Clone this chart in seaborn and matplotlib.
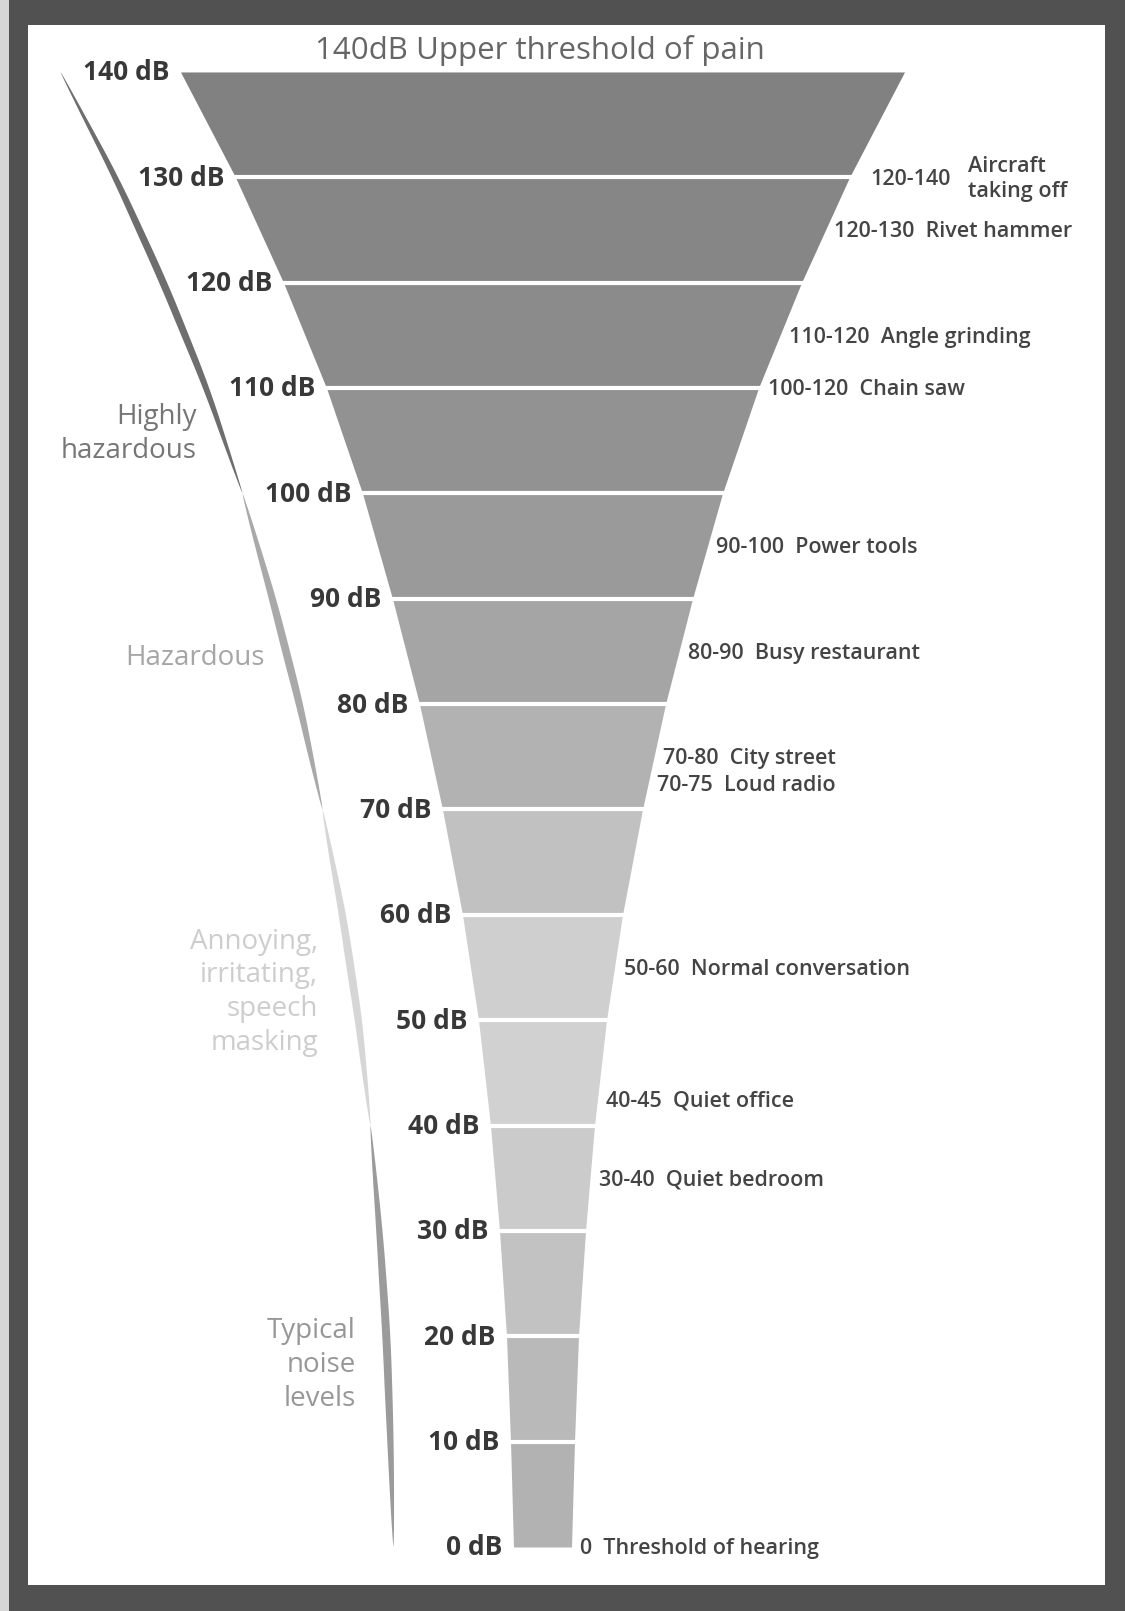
import numpy as np
import pandas as pd
import seaborn as sns
import matplotlib
matplotlib.use("Agg")
import matplotlib.pyplot as plt
from matplotlib.patches import Rectangle, Polygon

# ---------------- data ----------------
db_levels = [0, 10, 20, 30, 40, 50, 60, 70, 80, 90, 100, 110, 120, 130, 140]
# half width of the funnel (pixels) at each level
funnel_halfwidth = [29, 32, 36, 43, 52, 64, 80, 100, 123, 150, 180, 216, 259, 307, 362]
# grey of each 10 dB band, from 0-10 up to 130-140
band_gray = ["#b2b2b2", "#b9b9b9", "#c2c2c2", "#cbcbcb", "#d1d1d1", "#cfcfcf",
             "#c1c1c1", "#b2b2b2", "#a5a5a5", "#9a9a9a", "#929292", "#8b8b8b",
             "#868686", "#818181"]

source_low = [120, 120, 110, 100, 90, 80, 70, 70, 50, 40, 30, 0]
source_high = [140, 130, 120, 120, 100, 90, 80, 75, 60, 45, 40, 0]
source_name = ["Aircraft\ntaking off", "Rivet hammer", "Angle grinding", "Chain saw",
               "Power tools", "Busy restaurant", "City street", "Loud radio",
               "Normal conversation", "Quiet office", "Quiet bedroom",
               "Threshold of hearing"]

zone_low = [100, 70, 40, 0]
zone_high = [140, 100, 70, 40]
zone_label = [["Highly", "hazardous"], ["Hazardous"],
              ["Annoying,", "irritating,", "speech", "masking"],
              ["Typical", "noise", "levels"]]
zone_stroke = ["#6e6e6e", "#a9a9a9", "#d6d6d6", "#9b9b9b"]
zone_text = ["#767676", "#a6a6a6", "#cdcdcd", "#979797"]

title = "140dB Upper threshold of pain"

# ---------------- layout ----------------
W, H = 1125, 1611
CX = 542.5            # funnel centre (px)
Y0, K = 1547, 10.536  # pixel row of 0 dB, pixels per dB
CURVE_OFFSET = 120    # distance of hazard curve from funnel edge (px)
zone_label_x = [197, 265, 318, 356]         # right edge of zone labels (px)
zone_label_db = [107.4, 84.5, 57.6, 20.6]   # first line position
LINE_STEP_DB = 3.2

sns.set_theme(style="white")
plt.rcParams["font.family"] = ["Open Sans", "DejaVu Sans"]

fig = plt.figure(figsize=(W / 100, H / 100), dpi=100)
fig.patch.set_facecolor("#515151")
ax = fig.add_axes([0, 0, 1, 1])
ax.set_xlim(0, W)
ax.set_ylim(-(H - Y0) / K, Y0 / K)
ax.axis("off")
ax.patch.set_visible(False)

# white panel and thin light strip on the very left
fig.patches.append(Rectangle((28 / W, 1 - 1585 / H), (1105 - 28) / W, (1585 - 25) / H,
                             transform=fig.transFigure, facecolor="white",
                             edgecolor="none", zorder=-2))
fig.patches.append(Rectangle((0, 0), 9 / W, 1, transform=fig.transFigure,
                             facecolor="#d6d6d6", edgecolor="none", zorder=-2))

lv = np.array(db_levels, float)
hw = np.array(funnel_halfwidth, float)
pal = sns.color_palette(band_gray)


def edge(t):
    return np.interp(t, lv, hw)


# funnel bands
for i in range(len(db_levels) - 1):
    lo, hi = lv[i], lv[i + 1]
    ax.fill_betweenx([lo, hi], [CX - hw[i], CX - hw[i + 1]], [CX + hw[i], CX + hw[i + 1]],
                     color=pal[i], linewidth=0, zorder=2)
# white separators
for i in range(1, len(db_levels) - 1):
    ax.hlines(lv[i], CX - hw[i] - 2, CX + hw[i] + 2, color="white", lw=3.0, zorder=3)

# dB labels on the left
for d, h in zip(lv, hw):
    ax.text(CX - h - 11, d - 0.8, f"{int(d)} dB", ha="right", va="baseline",
            fontsize=19, fontweight="bold", color="#383838", zorder=4)

# title
ax.text(540, 141.2, title, ha="center", va="baseline", fontsize=22.5,
        fontweight="medium", color="#666666", zorder=4)

# sources on the right
FS = 15.5
for lo, hi, name in zip(source_low, source_high, source_name):
    mid = (lo + hi) / 2
    x = CX + edge(mid) + 9
    rng = f"{lo}-{hi}" if lo != hi else f"{lo}"
    if "\n" in name:
        ax.text(x + 12, mid - 0.7, rng, ha="left", va="baseline", fontsize=FS,
                fontweight="semibold", color="#444444", zorder=4)
        l1, l2 = name.split("\n")
        ax.text(x + 110, mid + 0.5, l1, ha="left", va="baseline", fontsize=FS,
                fontweight="semibold", color="#444444", zorder=4)
        ax.text(x + 110, mid - 1.9, l2, ha="left", va="baseline", fontsize=FS,
                fontweight="semibold", color="#444444", zorder=4)
    else:
        ax.text(x, mid - 0.7, f"{rng}  {name}", ha="left", va="baseline",
                fontsize=FS, fontweight="semibold", color="#444444", zorder=4)

# hazard scale on the left: tapered strokes following the funnel edge
for lo, hi, col in zip(zone_low, zone_high, zone_stroke):
    t = np.linspace(lo, hi, 200)
    xc = CX - edge(t) - CURVE_OFFSET
    k = 15
    pad = np.pad(xc, k, mode="reflect", reflect_type="odd")
    xc = np.convolve(pad, np.ones(2 * k + 1) / (2 * k + 1), mode="valid")
    s = (t - lo) / (hi - lo)
    w = 8.0 * np.sin(np.pi * s) ** 0.7
    xs = np.concatenate([xc - w / 2, (xc + w / 2)[::-1]])
    ys = np.concatenate([t, t[::-1]])
    ax.add_patch(Polygon(np.column_stack([xs, ys]), closed=True, facecolor=col,
                         edgecolor="none", zorder=2))

# zone labels
for lines, xr, d0, col in zip(zone_label, zone_label_x, zone_label_db, zone_text):
    for j, line in enumerate(lines):
        ax.text(xr, d0 - j * LINE_STEP_DB - 0.8, line, ha="right", va="baseline",
                fontsize=20, fontweight="medium", color=col, zorder=4)

fig.savefig("out.png", dpi=100, facecolor=fig.get_facecolor())
